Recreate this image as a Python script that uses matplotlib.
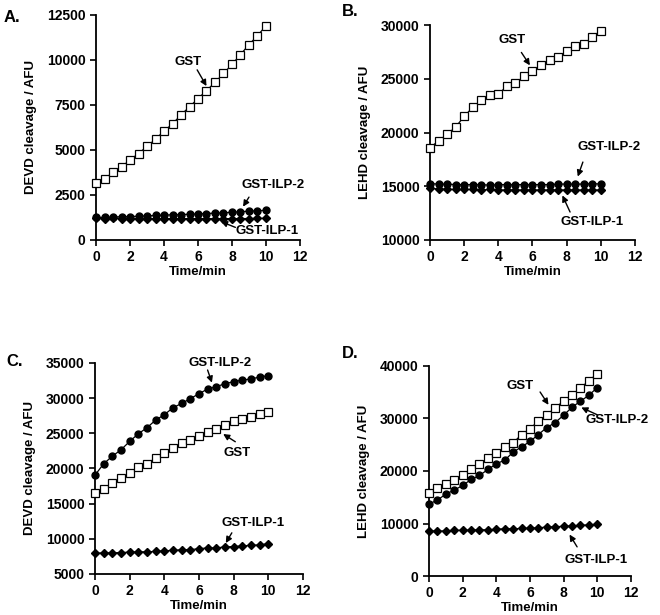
import matplotlib.pyplot as plt
import numpy as np

plt.rcParams['font.family'] = ['Liberation Sans', 'DejaVu Sans']
plt.rcParams['font.weight'] = 'bold'

time_min = np.arange(0, 10.01, 0.5)

# Panel A: DEVD cleavage
a_gst = [3150, 3400, 3750, 4050, 4450, 4800, 5200, 5600, 6050, 6450, 6950,
         7400, 7850, 8300, 8750, 9250, 9750, 10300, 10850, 11350, 11900]
a_ilp2 = [1250, 1250, 1280, 1290, 1300, 1320, 1340, 1360, 1380, 1400, 1410,
          1430, 1450, 1470, 1490, 1510, 1540, 1570, 1600, 1620, 1650]
a_ilp1 = [1200, 1180, 1200, 1190, 1180, 1190, 1180, 1190, 1180, 1190, 1180,
          1190, 1180, 1190, 1180, 1190, 1180, 1190, 1190, 1200, 1200]

# Panel B: LEHD cleavage
b_gst = [18590, 19210, 19830, 20510, 21500, 22340, 23020, 23490, 23550, 24330, 24600,
         25220, 25720, 26250, 26740, 27020, 27580, 28080, 28200, 28910, 29470]
b_ilp2 = [15250, 15200, 15200, 15150, 15150, 15150, 15150, 15100, 15150, 15150, 15150,
          15150, 15150, 15150, 15150, 15200, 15200, 15200, 15200, 15250, 15200]
b_ilp1 = [14800, 14750, 14700, 14700, 14700, 14700, 14650, 14700, 14650, 14650, 14650,
          14650, 14650, 14650, 14650, 14650, 14650, 14650, 14650, 14650, 14650]

# Panel C: DEVD cleavage
c_ilp2 = [19050, 20660, 21750, 22650, 23840, 24930, 25790, 26880, 27640, 28630, 29250,
          29920, 30630, 31290, 31630, 32050, 32340, 32570, 32720, 33000, 33190]
c_gst = [16490, 17100, 17910, 18670, 19290, 20190, 20570, 21560, 22130, 22890, 23560,
         23980, 24550, 25170, 25650, 26220, 26690, 26970, 27260, 27690, 27970]
c_ilp1 = [7950, 8000, 8000, 8050, 8100, 8150, 8150, 8200, 8300, 8350, 8450,
          8450, 8600, 8700, 8700, 8850, 8900, 9000, 9050, 9150, 9300]

# Panel D: LEHD cleavage
d_gst = [15730, 16680, 17500, 18260, 19150, 20350, 21310, 22450, 23460, 24480, 25360,
         26950, 28030, 29550, 30630, 32090, 33290, 34500, 35830, 37160, 38550]
d_ilp2 = [13700, 14460, 15600, 16360, 17250, 18390, 19150, 20290, 21370, 22070, 23590,
          24600, 25620, 26950, 28280, 29230, 30630, 32150, 33290, 34430, 35890]
d_ilp1 = [8600, 8550, 8600, 8700, 8700, 8750, 8800, 8800, 8900, 9000, 9000,
          9050, 9100, 9200, 9300, 9400, 9450, 9550, 9650, 9750, 9850]


def draw_series(ax, gst, ilp2, ilp1):
    kw = dict(color='black', lw=0.9, clip_on=False, zorder=3)
    ax.plot(time_min, ilp1, marker='D', ms=4.5, mfc='black', mec='black', **kw)
    ax.plot(time_min, ilp2, marker='o', ms=5, mfc='black', mec='black', **kw)
    ax.plot(time_min, gst, marker='s', ms=6, mfc='white', mec='black', mew=0.9, **kw)


def style_axis(ax, ylim, yticks, ylabel):
    ax.set_xlim(0, 12)
    ax.set_ylim(*ylim)
    ax.set_xticks(range(0, 13, 2))
    ax.set_yticks(yticks)
    ax.spines['top'].set_visible(False)
    ax.spines['right'].set_visible(False)
    for s in ('left', 'bottom'):
        ax.spines[s].set_linewidth(1.3)
    ax.tick_params(direction='out', length=4, width=1.2, labelsize=10)
    for lab in ax.get_xticklabels() + ax.get_yticklabels():
        lab.set_fontweight('bold')
    ax.set_xlabel('Time/min', fontsize=9.5, fontweight='bold', labelpad=1)
    ax.set_ylabel(ylabel, fontsize=9.5, fontweight='bold', labelpad=7)


def note(ax, text, xy, xytext, tail):
    ax.text(*xytext, text, fontsize=9.5, fontweight='bold', ha='center', va='center')
    ax.annotate('', xy=xy, xytext=tail,
                arrowprops=dict(arrowstyle='-|>', color='black', lw=1,
                                mutation_scale=9, shrinkA=0, shrinkB=0))


fig = plt.figure(figsize=(6.6, 6.15), dpi=100)

axA = fig.add_axes([0.1455, 0.6098, 0.309, 0.3659])
draw_series(axA, a_gst, a_ilp2, a_ilp1)
style_axis(axA, (0, 12500), range(0, 12501, 2500), 'DEVD cleavage / AFU')
note(axA, 'GST', (6.5, 8550), (5.4, 9900), (5.95, 9450))
note(axA, 'GST-ILP-2', (8.65, 1850), (10.4, 3050), (9.0, 2380))
note(axA, 'GST-ILP-1', (7.35, 1020), (10.05, 500), (8.2, 700))

axB = fig.add_axes([0.6515, 0.6098, 0.3106, 0.3495])
draw_series(axB, b_gst, b_ilp2, b_ilp1)
style_axis(axB, (10000, 30000), range(10000, 30001, 5000), 'LEHD cleavage / AFU')
note(axB, 'GST', (5.85, 26250), (4.8, 28600), (5.35, 27450))
note(axB, 'GST-ILP-2', (8.65, 15900), (10.5, 18650), (8.95, 17250))
note(axB, 'GST-ILP-1', (7.75, 14150), (9.5, 11670), (8.2, 12600))

axC = fig.add_axes([0.1439, 0.0667, 0.315, 0.3431])
draw_series(axC, c_gst, c_ilp2, c_ilp1)
style_axis(axC, (5000, 35000), range(5000, 35001, 5000), 'DEVD cleavage / AFU')
note(axC, 'GST-ILP-2', (6.75, 32200), (7.2, 35000), (6.5, 34000))
note(axC, 'GST', (7.4, 24900), (8.2, 22200), (8.1, 23800))
note(axC, 'GST-ILP-1', (7.55, 9400), (9.1, 12250), (7.9, 10850))

axD = fig.add_axes([0.65, 0.0634, 0.306, 0.3415])
draw_series(axD, d_gst, d_ilp2, d_ilp1)
style_axis(axD, (0, 40000), range(0, 40001, 10000), 'LEHD cleavage / AFU')
note(axD, 'GST', (7.1, 32600), (5.4, 36200), (6.6, 35050))
note(axD, 'GST-ILP-2', (9.05, 32100), (11.2, 29700), (10.0, 30700))
note(axD, 'GST-ILP-1', (8.35, 7900), (9.9, 3050), (8.8, 5550))

# panel letters
for letter, x, y in [('A.', 4, 17), ('B.', 342, 12), ('C.', 6, 361), ('D.', 342, 354)]:
    fig.text(x / 660, 1 - y / 615, letter, fontsize=12, fontweight='bold',
             ha='left', va='center')

fig.savefig('out.png', dpi=100)
